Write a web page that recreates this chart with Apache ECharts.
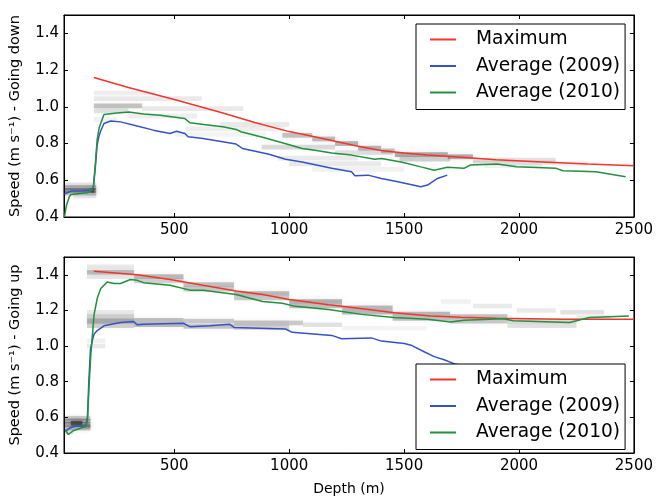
<!doctype html>
<html>
<head>
    <meta charset="utf-8">
    <title>speed-depth</title>
    <script src="https://cdn.jsdelivr.net/npm/echarts@6/dist/echarts.min.js"></script>
    <style>
        html,body{margin:0;padding:0;background:#fff;}
        #chart{width:656px;height:497px;}
    </style>
</head>
<body>
<div id="chart"></div>
<script>
    //刻度
    var xTicks=[500,1000,1500,2000,2500];
    var yTicks=[0.4,0.6,0.8,1.0,1.2,1.4];
    var seriesNames=["Maximum","Average (2009)","Average (2010)"];

    //下行 [depth, speed]
    var maxDown=[[150,1.16],[300,1.105],[500,1.04],[700,0.97],[850,0.915],[1000,0.865],[1100,0.84],[1200,0.812],[1300,0.785],[1400,0.762],[1500,0.748],[1600,0.737],[1750,0.725],[1900,0.712],[2100,0.70],[2300,0.688],[2500,0.679]];
    var avg2009Down=[[22,0.525],[30,0.529],[50,0.541],[100,0.543],[137,0.545],[148,0.56],[157,0.68],[164,0.79],[172,0.84],[180,0.87],[194,0.909],[223,0.923],[266,0.918],[338,0.895],[409,0.873],[481,0.855],[510,0.867],[546,0.855],[560,0.837],[625,0.828],[769,0.797],[797,0.773],[912,0.742],[984,0.714],[1056,0.70],[1185,0.665],[1271,0.646],[1286,0.625],[1343,0.628],[1401,0.61],[1473,0.592],[1573,0.565],[1602,0.574],[1645,0.61],[1688,0.628]];
    var avg2010Down=[[22,0.40],[30,0.46],[43,0.51],[50,0.523],[90,0.528],[122,0.532],[137,0.543],[148,0.565],[157,0.70],[164,0.818],[172,0.88],[180,0.911],[194,0.958],[251,0.966],[302,0.972],[366,0.961],[438,0.954],[546,0.936],[568,0.913],[654,0.90],[711,0.891],[769,0.877],[790,0.864],[884,0.834],[970,0.804],[1056,0.773],[1112,0.764],[1185,0.748],[1271,0.737],[1372,0.715],[1401,0.719],[1487,0.70],[1573,0.673],[1631,0.655],[1688,0.671],[1760,0.665],[1789,0.683],[1904,0.688],[1990,0.673],[2162,0.665],[2191,0.652],[2335,0.646],[2464,0.619]];

    //上行 [depth, speed]
    var maxUp=[[150,1.42],[338,1.40],[481,1.374],[625,1.341],[769,1.309],[884,1.29],[1000,1.262],[1171,1.232],[1329,1.208],[1457,1.187],[1616,1.169],[1746,1.162],[1904,1.156],[2191,1.15],[2500,1.15]];
    var avg2009Up=[[25,0.522],[45,0.54],[70,0.55],[115,0.552],[122,0.6],[128,0.8],[135,0.98],[145,1.04],[151,1.068],[165,1.087],[194,1.114],[266,1.132],[323,1.138],[338,1.12],[366,1.123],[539,1.128],[568,1.109],[654,1.114],[740,1.123],[760,1.105],[984,1.096],[1013,1.077],[1185,1.06],[1228,1.041],[1358,1.046],[1401,1.028],[1501,1.014],[1530,1.005],[1587,0.968],[1631,0.941],[1674,0.923],[1720,0.9],[1760,0.89]];
    var avg2010Up=[[25,0.531],[39,0.504],[60,0.525],[94,0.54],[115,0.55],[122,0.58],[130,0.80],[137,0.959],[151,1.178],[165,1.27],[180,1.323],[208,1.36],[237,1.351],[266,1.351],[309,1.374],[338,1.369],[366,1.356],[481,1.341],[568,1.314],[625,1.314],[769,1.29],[884,1.25],[970,1.241],[1026,1.223],[1171,1.205],[1315,1.178],[1457,1.16],[1602,1.15],[1702,1.135],[1760,1.145],[1932,1.154],[1975,1.142],[2220,1.132],[2306,1.16],[2478,1.169]];

    //灰度直方图 [depthStart, depthEnd, speed, weight]
    var cellsDown=[
        [20,160,0.575,0.15],[20,160,0.56,0.45],[20,160,0.545,0.6],[20,160,0.53,0.35],[60,160,0.515,0.15],[135,152,0.545,0.9],
        [150,420,1.075,0.12],[150,620,1.045,0.15],[150,360,1.005,0.4],[360,800,0.99,0.15],[150,300,0.978,0.2],[300,600,0.95,0.12],[150,250,0.93,0.1],
        [550,980,0.88,0.12],[700,1000,0.905,0.15],[500,900,0.85,0.08],
        [970,1100,0.845,0.4],[1100,1200,0.825,0.45],[1200,1300,0.8,0.5],[1300,1400,0.775,0.5],[1400,1460,0.76,0.4],
        [1460,1690,0.74,0.55],[1690,1800,0.728,0.55],[1480,1700,0.715,0.3],
        [880,1200,0.78,0.25],[950,1300,0.72,0.15],[1000,1400,0.69,0.15],[1100,1500,0.66,0.1],[1200,1450,0.75,0.2],
        [1800,2160,0.71,0.2],[1800,2160,0.695,0.15],[2160,2300,0.69,0.1],[1850,2100,0.68,0.1]
    ];
    var cellsUp=[
        [20,135,0.595,0.3],[20,135,0.58,0.5],[20,135,0.56,0.55],[20,135,0.54,0.4],[20,60,0.52,0.2],[50,100,0.567,0.95],[100,135,0.55,0.4],
        [120,325,1.445,0.15],[120,325,1.415,0.45],[120,325,1.39,0.15],[325,540,1.39,0.45],[325,540,1.365,0.3],[540,760,1.345,0.4],[540,760,1.32,0.35],
        [760,1000,1.295,0.45],[760,1000,1.27,0.35],[1000,1230,1.25,0.5],[1000,1230,1.225,0.4],[1230,1450,1.215,0.45],[1230,1450,1.19,0.45],
        [1450,1700,1.18,0.45],[1450,1700,1.155,0.4],[1700,1950,1.165,0.4],[1700,1950,1.14,0.35],[1950,2250,1.14,0.25],[1950,2250,1.115,0.2],[2250,2400,1.16,0.15],
        [1660,1790,1.25,0.1],[1800,1970,1.225,0.15],[1990,2160,1.2,0.15],[2180,2370,1.19,0.2],
        [120,325,1.19,0.15],[120,325,1.165,0.3],[120,325,1.14,0.55],[120,325,1.115,0.3],[325,540,1.145,0.4],[325,540,1.12,0.45],
        [540,760,1.14,0.35],[540,760,1.11,0.4],[760,1000,1.13,0.4],[760,1000,1.105,0.3],[1000,1060,1.13,0.35],[1060,1230,1.12,0.2],[1230,1600,1.1,0.08],
        [120,200,1.0,0.15],[120,200,1.03,0.1]
    ];

    var colors=['#f2352a','#3652c4','#22913d'];
    var font='DejaVu Sans';
    var cellHalf=0.013;

    function renderCell(params,api){
        var p0=api.coord([api.value(0),api.value(2)+cellHalf]);
        var p1=api.coord([api.value(1),api.value(2)-cellHalf]);
        var c='rgba(30,30,30,'+(api.value(3)*0.62).toFixed(3)+')';
        return {
            type:'rect',
            shape:{x:p0[0],y:p0[1],width:p1[0]-p0[0],height:p1[1]-p0[1]},
            style:{fill:c,shadowBlur:6,shadowColor:c}
        };
    }

    //x轴（下边带标签，上边只有刻度）
    function xAxisOf(grid,top,name){
        return {
            type:'value',gridIndex:grid,position:top?'top':'bottom',
            min:20,max:2500,
            name:name||'',nameLocation:'middle',nameGap:29,
            nameTextStyle:{fontFamily:font,fontSize:14,color:'#000'},
            axisLine:{show:true,onZero:false,lineStyle:{color:'#000',width:1}},
            axisTick:{show:true,inside:true,length:4,customValues:xTicks,lineStyle:{color:'#000'}},
            axisLabel:{show:!top,customValues:xTicks,margin:6,fontFamily:font,fontSize:15,color:'#000',
                formatter:function(v){return String(v);}},
            splitLine:{show:false}
        };
    }
    function yAxisOf(grid,right,name){
        return {
            type:'value',gridIndex:grid,position:right?'right':'left',
            min:0.4,max:1.5,
            name:name||'',nameLocation:'middle',nameGap:41,
            nameTextStyle:{fontFamily:font,fontSize:14.5,color:'#000'},
            axisLine:{show:true,onZero:false,lineStyle:{color:'#000',width:1}},
            axisTick:{show:true,inside:true,length:4,customValues:yTicks,lineStyle:{color:'#000'}},
            axisLabel:{show:!right,customValues:yTicks,margin:5,fontFamily:font,fontSize:15,color:'#000',
                formatter:function(v){return v.toFixed(1);}},
            splitLine:{show:false}
        };
    }
    function legendOf(top){
        return {
            orient:'vertical',left:416,top:top,
            data:seriesNames,
            icon:'rect',itemWidth:26,itemHeight:2,itemGap:6.5,
            padding:[5.5,5,7,14],
            backgroundColor:'#fff',borderColor:'#000',borderWidth:1,borderRadius:0,
            textStyle:{fontFamily:font,fontSize:18.6,color:'#000',lineHeight:20,padding:[0,0,0,15]},
            selectedMode:false,z:10
        };
    }
    function lineOf(name,data,idx,axis){
        return {
            name:name,type:'line',xAxisIndex:axis,yAxisIndex:axis,
            data:data,showSymbol:false,symbol:'none',z:3,
            itemStyle:{color:colors[idx]},
            lineStyle:{color:colors[idx],width:1.5}
        };
    }
    function cellSeries(data,axis){
        return {
            type:'custom',xAxisIndex:axis,yAxisIndex:axis,
            renderItem:renderCell,encode:{x:[0,1],y:2},
            data:data,z:1,silent:true
        };
    }

    var chart=echarts.init(document.getElementById('chart'));
    var option={
        animation:false,
        backgroundColor:'#fff',
        grid:[
            {left:60,right:22,top:15,height:202,show:true,borderColor:'#000',borderWidth:1,backgroundColor:'#fff'},
            {left:60,right:22,top:257,height:202,show:true,borderColor:'#000',borderWidth:1,backgroundColor:'#fff'}
        ],
        xAxis:[xAxisOf(0,false),xAxisOf(1,false,'Depth (m)'),xAxisOf(0,true),xAxisOf(1,true)],
        yAxis:[yAxisOf(0,false,'Speed (m s⁻¹) - Going down'),yAxisOf(1,false,'Speed (m s⁻¹) - Going up'),yAxisOf(0,true),yAxisOf(1,true)],
        legend:[legendOf(24),legendOf(364)],
        series:[
            cellSeries(cellsDown,0),
            cellSeries(cellsUp,1),
            lineOf(seriesNames[0],maxDown,0,0),
            lineOf(seriesNames[1],avg2009Down,1,0),
            lineOf(seriesNames[2],avg2010Down,2,0),
            lineOf(seriesNames[0],maxUp,0,1),
            lineOf(seriesNames[1],avg2009Up,1,1),
            lineOf(seriesNames[2],avg2010Up,2,1)
        ]
    };
    chart.setOption(option);
</script>
</body>
</html>
